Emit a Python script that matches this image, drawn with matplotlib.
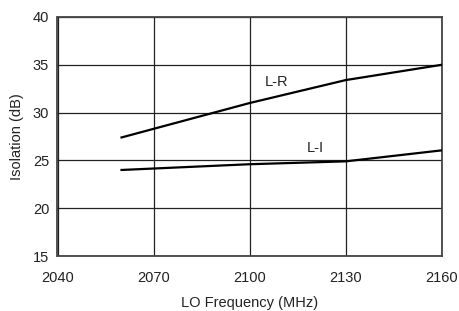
import matplotlib.pyplot as plt

plt.rcParams['font.family'] = ['Liberation Sans', 'DejaVu Sans']

# Data
freq = [2060, 2100, 2130, 2160]
l_r = [27.4, 31.0, 33.4, 35.0]
l_i = [24.0, 24.6, 24.9, 26.05]

xticks = [2040, 2070, 2100, 2130, 2160]
yticks = [15, 20, 25, 30, 35, 40]

fig = plt.figure(figsize=(4.6, 3.11), dpi=100)
ax = fig.add_axes([57.5 / 460, 1 - 256 / 311, (441.7 - 57.5) / 460, (256 - 17) / 311])

ax.plot(freq, l_r, color='black', lw=1.6, zorder=3)
ax.plot(freq, l_i, color='black', lw=1.6, zorder=3)

ax.text(2104.8, 33.2, 'L-R', fontsize=10.5, color='#222222', ha='left', va='center')
ax.text(2117.9, 26.3, 'L-I', fontsize=10.5, color='#222222', ha='left', va='center')

ax.set_xlim(2040, 2160)
ax.set_ylim(15, 40)
ax.set_xticks(xticks)
ax.set_yticks(yticks)
ax.grid(True, color='#222222', lw=0.9)
ax.tick_params(length=0, labelsize=10.5, colors='#222222')
ax.tick_params(axis='x', pad=11)
ax.tick_params(axis='y', pad=6)
for s in ax.spines.values():
    s.set_color('#444444')
    s.set_linewidth(1.3)

ax.set_xlabel('LO Frequency (MHz)', fontsize=10.5, color='#222222', labelpad=8)
ax.set_ylabel('Isolation (dB)', fontsize=10.5, color='#222222', labelpad=6)

plt.savefig('out.png', dpi=100)
